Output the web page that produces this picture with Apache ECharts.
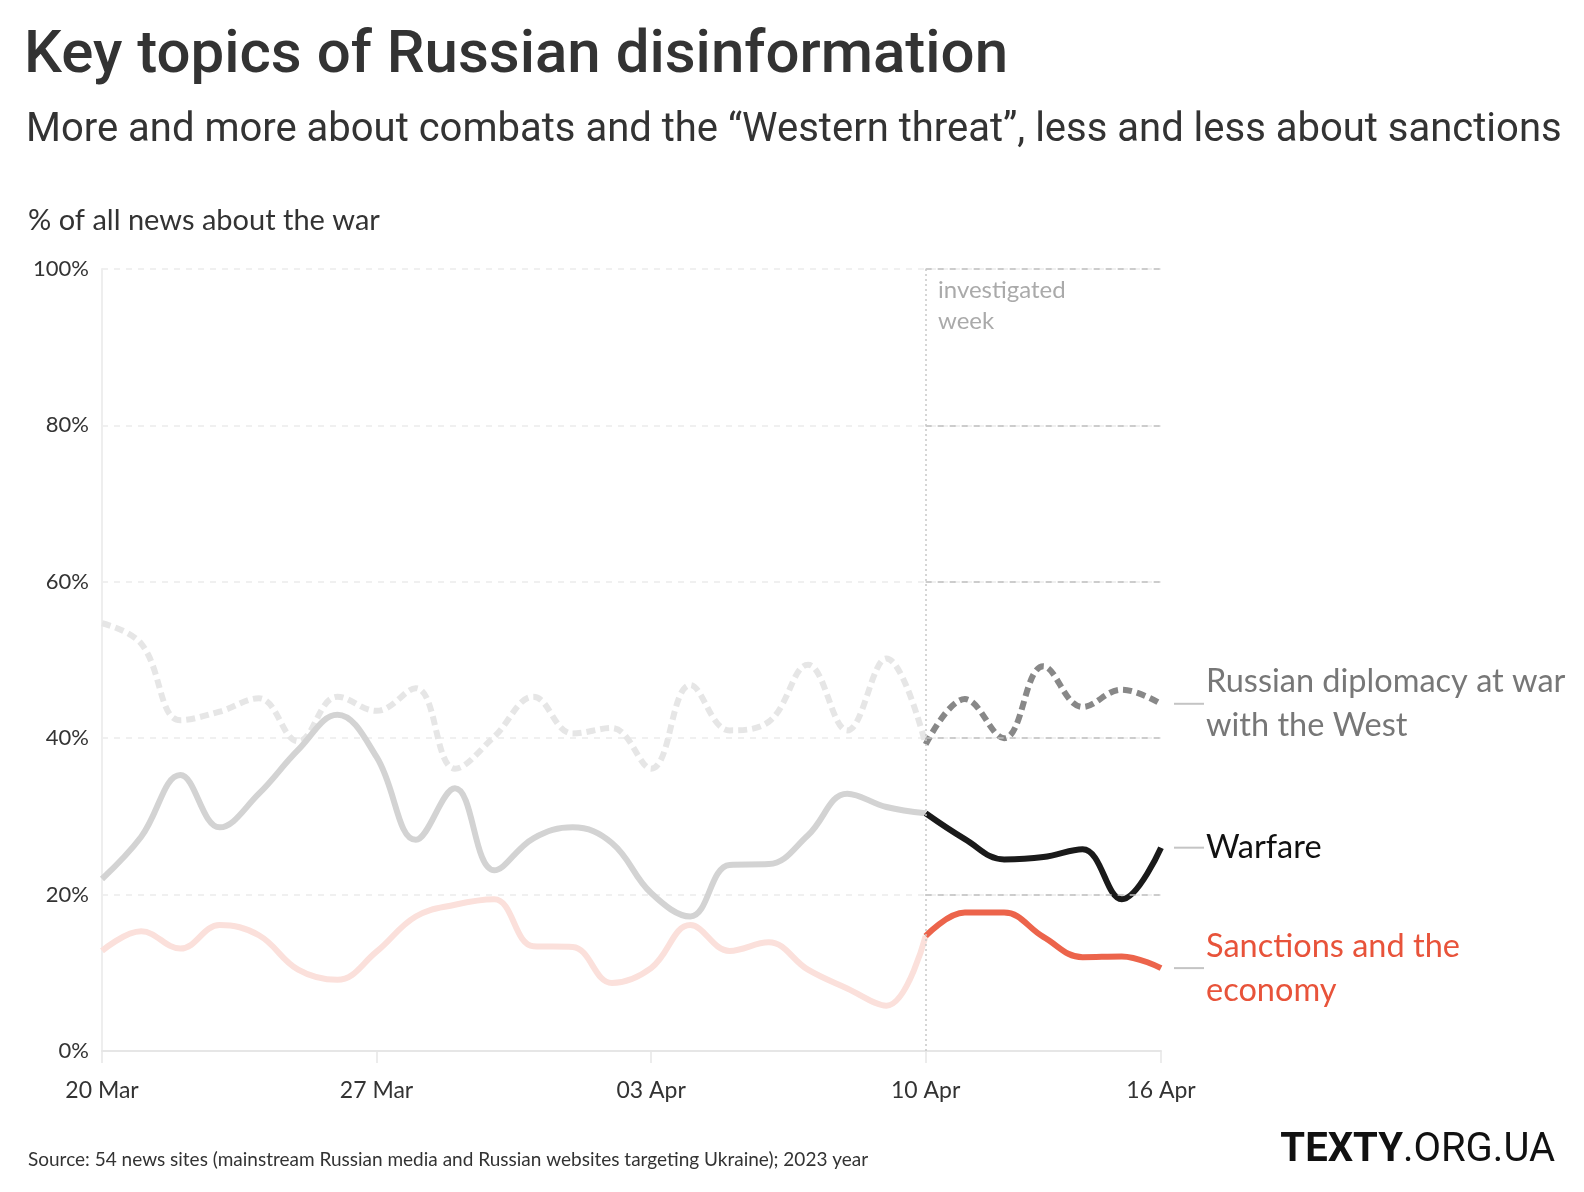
<!DOCTYPE html>
<html>
<head>
<meta charset="utf-8">
<script src="https://cdn.jsdelivr.net/npm/echarts@6/dist/echarts.min.js"></script>
<style>
html,body{margin:0;padding:0;background:#fff;}
#chart{width:1584px;height:1192px;}
</style>
</head>
<body>
<div id="chart"></div>
<script>
const dates = ['20 Mar','21 Mar','22 Mar','23 Mar','24 Mar','25 Mar','26 Mar','27 Mar','28 Mar','29 Mar','30 Mar','31 Mar',
  '01 Apr','02 Apr','03 Apr','04 Apr','05 Apr','06 Apr','07 Apr','08 Apr','09 Apr','10 Apr','11 Apr','12 Apr','13 Apr','14 Apr','15 Apr','16 Apr'];
const xTickLabels = ['20 Mar','27 Mar','03 Apr','10 Apr','16 Apr'];
const yTicks = [0,20,40,60,80,100];
const investigatedStart = '10 Apr';

const diplomacy = [54.7,52.1,42.3,43.4,45.1,39.6,45.3,43.5,46.4,36.1,40.2,45.3,40.6,41.3,36.1,46.8,41.0,42.1,49.4,41.0,50.2,39.2,45.0,40.0,49.2,44.0,46.2,44.4];
const warfare   = [22.0,27.4,35.3,28.6,32.9,38.5,43.0,37.6,27.0,33.6,23.1,27.2,28.6,26.6,20.2,17.2,23.8,23.9,27.6,32.9,31.2,30.4,27.1,24.5,24.8,25.8,19.4,26.0];
const sanctions = [12.8,15.3,13.1,16.1,14.8,10.4,9.1,12.7,17.2,18.7,19.4,13.4,13.3,8.7,10.6,16.1,12.8,13.9,10.4,8.0,5.8,14.7,17.7,17.7,14.6,12.0,12.1,10.6];

const names = {
  diplomacy: 'Russian diplomacy at war\nwith the West',
  warfare: 'Warfare',
  sanctions: 'Sanctions and the\neconomy'
};

const splitIdx = dates.indexOf(investigatedStart);
const lastIdx = dates.length - 1;
const before = arr => arr.map((v,i) => i <= splitIdx ? v : '-');
const after = arr => arr.map((v,i) => i >= splitIdx ? v : '-');

const FONT = 'Lato, "Source Sans Pro", "Noto Sans", sans-serif';
const SMOOTH = 0.4;
const LW = 6;

function faded(data, color, dashed) {
  return {
    type: 'line', data: before(data), smooth: SMOOTH, symbol: 'none', z: 2,
    lineStyle: { color: color, width: LW, type: dashed ? [9,5] : 'solid', cap: 'butt' },
    silent: true
  };
}
function highlighted(data, color, dashed, label, labelColor) {
  return {
    type: 'line', data: after(data), smooth: SMOOTH, symbol: 'none', z: 4,
    lineStyle: { color: color, width: LW, type: dashed ? [9,5] : 'solid', cap: 'butt' },
    silent: true,
    endLabel: {
      show: true, formatter: label, distance: 45, color: labelColor,
      fontFamily: FONT, fontSize: 32.5, lineHeight: 44, align: 'left', verticalAlign: 'middle'
    },
    markPoint: {
      silent: true, symbol: 'rect', symbolSize: [30, 2], symbolOffset: [28, 0],
      itemStyle: { color: '#c4c4c4' }, label: { show: false },
      data: [{ coord: [dates[lastIdx], data[lastIdx]] }]
    }
  };
}

const chart = echarts.init(document.getElementById('chart'), null, { renderer: 'canvas' });

const gridMarks = yTicks.filter(v => v > 0).map(v => [
  { coord: [investigatedStart, v] }, { coord: [dates[lastIdx], v] }
]);

const option = {
  backgroundColor: '#fff',
  animation: false,
  textStyle: { fontFamily: FONT },
  title: [
    { text: 'Key topics of Russian disinformation', left: 19, top: 22,
      textStyle: { fontFamily: 'Roboto, sans-serif', fontSize: 60, fontWeight: 500, color: '#333' } },
    { text: 'More and more about combats and the \u201CWestern threat\u201D, less and less about sanctions', left: 21, top: 106,
      textStyle: { fontFamily: 'Roboto, sans-serif', fontSize: 40, fontWeight: 400, color: '#333' } },
    { text: '% of all news about the war', left: 23, top: 201,
      textStyle: { fontFamily: FONT, fontSize: 29, fontWeight: 400, color: '#333' } },
    { text: 'Source: 54 news sites (mainstream Russian media and Russian websites targeting Ukraine); 2023 year', left: 23, top: 1145,
      textStyle: { fontFamily: FONT, fontSize: 19, fontWeight: 400, color: '#333' } },
    { text: '{b|TEXTY}{r|.ORG.UA}', right: 24, top: 1126,
      textStyle: { rich: {
        b: { fontFamily: 'Roboto, sans-serif', fontSize: 40, fontWeight: 700, color: '#111' },
        r: { fontFamily: 'Roboto, sans-serif', fontSize: 40, fontWeight: 400, color: '#111' }
      } } }
  ],
  graphic: [
    { type: 'text', left: 938, top: 275, silent: true,
      style: { text: 'investigated\nweek', fill: '#aaa', font: '24px ' + FONT, lineHeight: 31 } }
  ],
  grid: { left: 102, right: 423, top: 269, bottom: 141, containLabel: false },
  xAxis: {
    type: 'category', data: dates, boundaryGap: false,
    axisLine: { show: true, lineStyle: { color: '#e6e6e6', width: 2 } },
    axisTick: { show: true, length: 12, interval: (i, v) => xTickLabels.includes(v), lineStyle: { color: '#e6e6e6', width: 1.5 } },
    axisLabel: { interval: (i, v) => xTickLabels.includes(v), color: '#333', fontSize: 23, margin: 28, fontFamily: FONT },
    splitLine: { show: false }
  },
  yAxis: {
    type: 'value', min: 0, max: 100, interval: 20,
    axisLine: { show: true, lineStyle: { color: '#eeeeee', width: 2 } },
    axisTick: { show: false },
    axisLabel: { formatter: '{value}%', color: '#333', fontSize: 22, margin: 13, fontFamily: FONT },
    splitLine: { show: true, lineStyle: { color: '#ebebeb', type: [6,6], width: 1.5 } }
  },
  series: [
    {
      type: 'line', data: [], silent: true,
      markLine: {
        silent: true, symbol: 'none', label: { show: false },
        lineStyle: { color: '#bdbdbd', type: [6,6], width: 1.5 },
        data: gridMarks
      }
    },
    {
      type: 'line', data: [], silent: true,
      markLine: {
        silent: true, symbol: 'none', label: { show: false },
        lineStyle: { color: '#c8c8c8', type: [2,3], width: 1.5 },
        data: [{ xAxis: investigatedStart }]
      }
    },
    faded(diplomacy, '#e6e6e6', true),
    faded(warfare, '#d3d3d3', false),
    faded(sanctions, '#fbe0db', false),
    highlighted(diplomacy, '#888888', true, names.diplomacy, '#777777'),
    highlighted(warfare, '#1a1a1a', false, names.warfare, '#111111'),
    highlighted(sanctions, '#ec644b', false, names.sanctions, '#e8533a')
  ]
};
chart.setOption(option);
</script>
</body>
</html>
